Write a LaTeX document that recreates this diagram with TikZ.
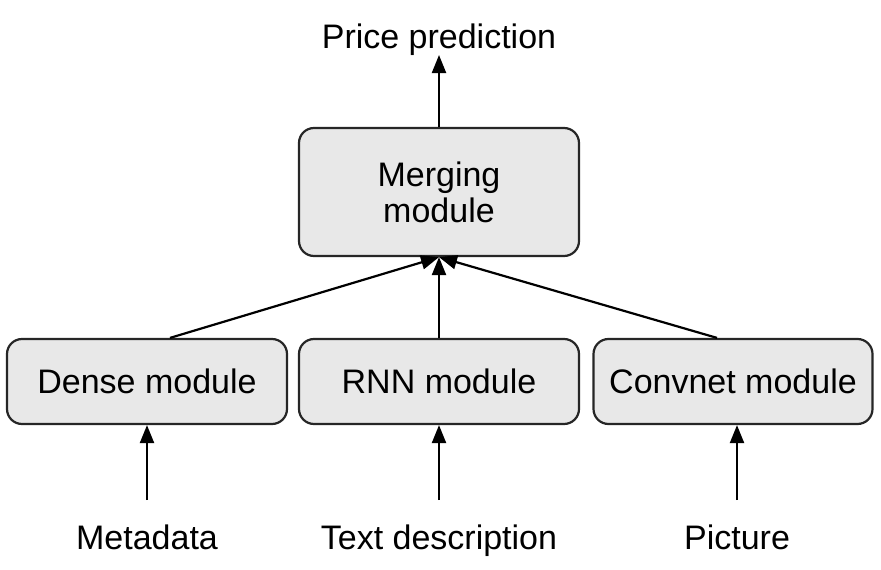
\documentclass[tikz,border=0pt]{standalone}
\usepackage{fontspec}
\setmainfont{Liberation Sans}
\usetikzlibrary{arrows.meta,calc}
\begin{document}
\begin{tikzpicture}[x=1pt,y=-1pt,
  modbox/.style={draw=black!85, line width=2.2pt, fill=black!9, rounded corners=15pt, inner sep=0pt, minimum height=85pt, minimum width=280pt, font=\fontsize{34}{36}\selectfont, align=center},
  lbl/.style={inner sep=0pt, anchor=base, font=\fontsize{34}{36}\selectfont},
  arr/.style={line width=2.2pt, -{Triangle[length=18pt,width=14pt]}}]
\useasboundingbox (0,0) rectangle (881,570);
\node[modbox, minimum height=128pt] (merge) at (439,192) {Merging\\module};
\node[modbox] (dense) at (147,381.5) {Dense module};
\node[modbox] (rnn) at (439,381.5) {RNN module};
\node[modbox, minimum width=279pt] (conv) at (733,381.5) {Convnet module};
\node[lbl] (price) at (439,48) {Price prediction};
\node[lbl] (meta) at (147,549) {Metadata};
\node[lbl] (text) at (439,549) {Text description};
\node[lbl] (pic) at (737,549) {Picture};
\coordinate (ptip) at (439,55);
\coordinate (m0) at (147,500);
\coordinate (t0) at (439,500);
\coordinate (p0) at (737,500);
\draw[arr] (merge.north) -- (ptip);
\draw[arr] ($(dense.north)+(23,0)$) -- (merge.south);
\draw[arr] (rnn.north) -- (merge.south);
\draw[arr] ($(conv.north)+(-16,0)$) -- (merge.south);
\draw[arr] (m0) -- (m0 |- dense.south);
\draw[arr] (t0) -- (rnn.south);
\draw[arr] (p0) -- (p0 |- conv.south);
\end{tikzpicture}
\end{document}
